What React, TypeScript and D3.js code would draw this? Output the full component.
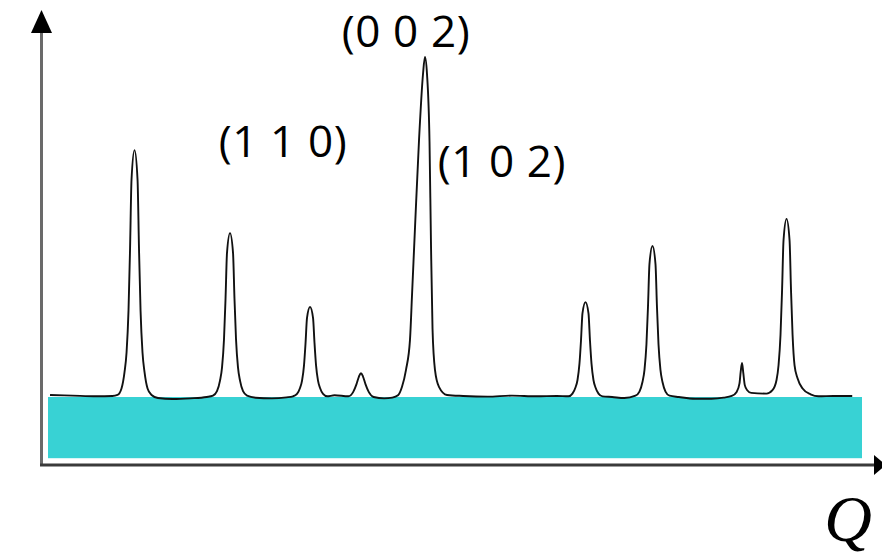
import React from "react";
import * as d3 from "d3";

// ---- data (Q in arbitrary units 0..100, intensity in arbitrary units, 0 = substrate top) ----
const baseline: [number, number][] = [
  [0.25, 0.6], [3, 0.4], [6, 0.2], [7.9, 0.3],
  [13.5, -0.3], [15.3, -0.6], [17.5, -0.4], [19.5, 0.0],
  [25.5, -0.2], [27.5, -0.4], [29.3, -0.1],
  [35.2, 0.5],
  [41.3, -0.4], [42.3, -0.2],
  [51, 0.3], [54, 0.1], [57, 0.4], [60, 0.2], [62.5, 0.3],
  [69.3, 0.0], [70.8, -0.3],
  [77.5, 0.0], [79.5, -0.5], [81.5, -0.5], [83.0, -0.2],
  [96.5, 0.3], [98.8, 0.3],
];

const peak1: [number, number][] = [
  [8.54, 0.6], [9.03, 2.5], [9.4, 7.3], [9.65, 13.1], [9.89, 25.4], [10.08, 43.6], [10.26, 63.9],
  [10.63, 72.6],
  [11.0, 63.9], [11.18, 43.6], [11.37, 25.4], [11.61, 13.1], [11.86, 7.3], [12.23, 2.5], [12.72, 0.6],
];
const peak2: [number, number][] = [
  [20.27, 0.4], [20.76, 1.7], [21.13, 4.8], [21.38, 8.7], [21.62, 16.9], [21.81, 28.9], [21.99, 42.4],
  [22.36, 48.2],
  [22.73, 42.4], [22.91, 28.9], [23.1, 16.9], [23.34, 8.7], [23.59, 4.8], [23.96, 1.7], [24.45, 0.4],
];
const peak3: [number, number][] = [
  [30.1, 0.2], [30.59, 0.9], [30.96, 2.65], [31.21, 4.8], [31.45, 9.3], [31.64, 15.9], [31.82, 23.3],
  [32.19, 26.5],
  [32.56, 23.3], [32.74, 15.9], [32.93, 9.3], [33.17, 4.8], [33.42, 2.65], [33.79, 0.9], [34.28, 0.2],
];
const peak4: [number, number][] = [
  [36.9, 0.2], [37.5, 1.5], [37.9, 3.8], [38.2, 6.0], [38.45, 7.0], [38.7, 6.0], [39.0, 3.8], [39.4, 1.5], [40.0, 0.0],
];
const peak5: [number, number][] = [
  [43.0, 0.5], [43.49, 3], [43.98, 8], [44.47, 16.8], [44.72, 30], [45.09, 50], [45.58, 75.6], [46.07, 95],
  [46.31, 100],
  [46.56, 95], [46.87, 75], [47.05, 45], [47.24, 20], [47.54, 8], [48.03, 3], [49.02, 0.6],
];
const peak6: [number, number][] = [
  [63.94, 0.2], [64.43, 1.0], [64.8, 2.8], [65.05, 5.0], [65.29, 9.8], [65.48, 16.7], [65.66, 24.6],
  [66.03, 27.9],
  [66.4, 24.6], [66.58, 16.7], [66.77, 9.8], [67.01, 5.0], [67.26, 2.8], [67.63, 1.0], [68.12, 0.2],
];
const peak7: [number, number][] = [
  [72.17, 0.4], [72.66, 1.6], [73.03, 4.4], [73.28, 8.0], [73.52, 15.5], [73.71, 26.6], [73.89, 39.1],
  [74.26, 44.4],
  [74.63, 39.1], [74.81, 26.6], [75.0, 15.5], [75.24, 8.0], [75.49, 4.4], [75.86, 1.6], [76.35, 0.4],
];
const peak8: [number, number][] = [
  [84.0, 0.3], [84.6, 1.5], [84.95, 4], [85.1, 7.5], [85.26, 10], [85.42, 7], [85.6, 3.5], [85.9, 2], [86.4, 1.2],
];
const peak9: [number, number][] = [
  [88.27, 1.0], [89.0, 2.0], [89.5, 5], [89.75, 9.4], [89.99, 18.3], [90.18, 31.4], [90.36, 46.1],
  [90.73, 52.4],
  [91.1, 46.1], [91.28, 31.4], [91.47, 18.3], [91.71, 9.4], [92.08, 5.5], [92.7, 2.5], [93.68, 0.8], [94.66, 0.2],
];

const labels = ["(1 1 0)", "(0 0 2)", "(1 0 2)"];
const labelQ = [28.87, 43.98, 55.77];
const labelI = [70.6, 102.8, 64.7];

const substrateQ = [0, 100];
const substrateI = [0, -18];

// ---- layout ----
const W = 882;
const H = 554;

export default function App() {
  const x = d3.scaleLinear().domain([0, 100]).range([48, 862]);
  const y = d3.scaleLinear().domain([0, 100]).range([397, 57]);

  const pts = [
    ...baseline, ...peak1, ...peak2, ...peak3, ...peak4, ...peak5,
    ...peak6, ...peak7, ...peak8, ...peak9,
  ].sort((a, b) => a[0] - b[0]);

  const line = d3
    .line<[number, number]>()
    .x((d) => x(d[0]))
    .y((d) => y(d[1]))
    .curve(d3.curveMonotoneX);

  const axisX0 = 41.5;
  const axisY0 = 465;

  return (
    <svg
      width={W}
      height={H}
      style={{ position: "absolute", left: 0, top: 0, background: "#fff" }}
    >
      {/* substrate band */}
      <rect
        x={x(substrateQ[0])}
        y={y(substrateI[0])}
        width={x(substrateQ[1]) - x(substrateQ[0])}
        height={y(substrateI[1]) - y(substrateI[0])}
        fill="#38D2D4"
      />
      {/* axes */}
      <line x1={axisX0} y1={axisY0 - 1} x2={axisX0} y2={28} stroke="#6a6a6a" strokeWidth={3} />
      <polygon points={`${axisX0},10 ${axisX0 - 10.5},33 ${axisX0 + 10.5},33`} fill="#000" />
      <line x1={axisX0 - 1.5} y1={axisY0} x2={878} y2={axisY0} stroke="#3a3a3a" strokeWidth={3} />
      <polygon points={`886,${axisY0} 874,${axisY0 - 10} 874,${axisY0 + 10}`} fill="#000" />

      {/* diffraction pattern */}
      <path d={line(pts) || ""} fill="none" stroke="#111" strokeWidth={1.9} strokeLinejoin="round" />

      {/* peak labels */}
      {labels.map((t, i) => (
        <text
          key={t}
          x={x(labelQ[i])}
          y={y(labelI[i])}
          textAnchor="middle"
          fontFamily="'Open Sans', sans-serif"
          fontSize={44}
          letterSpacing={0.6}
          fill="#000"
        >
          {t}
        </text>
      ))}

      <text
        x={872}
        y={541}
        textAnchor="end"
        fontFamily="'Liberation Serif', serif"
        fontStyle="italic"
        fontSize={66}
        fill="#000"
      >
        Q
      </text>
    </svg>
  );
}
